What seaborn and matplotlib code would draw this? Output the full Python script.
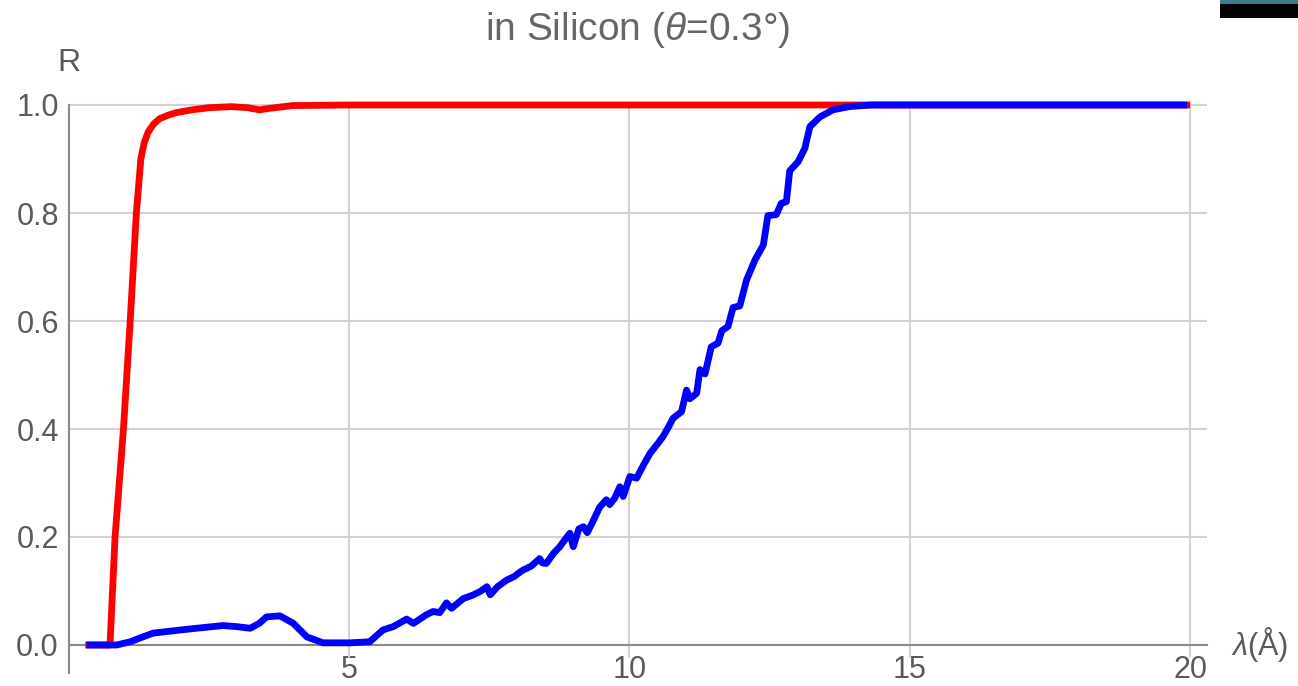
import matplotlib
matplotlib.use("Agg")
import matplotlib.pyplot as plt
from matplotlib.ticker import MultipleLocator, FixedLocator
from matplotlib.patches import Rectangle
import seaborn as sns
import pandas as pd

# Reflectivity curves: wavelength (Å) vs reflectivity R
red_lambda = [0.30, 0.74, 0.83, 0.98, 1.10, 1.21, 1.29, 1.35, 1.42, 1.52, 1.63,
              1.80, 1.93, 2.20, 2.50, 2.90, 3.20, 3.40, 3.60, 4.00, 5.00, 20.0]
red_r = [0.0, 0.0, 0.2, 0.4, 0.6, 0.8, 0.9, 0.93, 0.95, 0.965, 0.975,
         0.982, 0.986, 0.991, 0.995, 0.997, 0.995, 0.991, 0.994, 0.999, 1.0, 1.0]

blue_lambda = [0.32, 0.86, 1.10, 1.30, 1.51, 1.93, 2.28, 2.76, 3.00, 3.24, 3.40,
               3.53, 3.77, 4.01, 4.25, 4.54, 5.02, 5.37, 5.61, 5.79, 6.03, 6.15,
               6.38, 6.50, 6.62, 6.74, 6.83, 7.04, 7.20, 7.34, 7.46, 7.52, 7.65,
               7.81, 7.95, 8.05, 8.11, 8.25, 8.40, 8.45, 8.52, 8.65, 8.76, 8.85,
               8.94, 9.00, 9.10, 9.18, 9.25, 9.36, 9.47, 9.59, 9.65, 9.74, 9.83,
               9.89, 10.01, 10.13, 10.25, 10.37, 10.50, 10.60, 10.70, 10.78, 10.93,
               11.02, 11.08, 11.20, 11.26, 11.35, 11.46, 11.58, 11.65, 11.76, 11.85,
               11.97, 12.09, 12.24, 12.39, 12.47, 12.62, 12.71, 12.80, 12.86, 13.01,
               13.13, 13.22, 13.40, 13.63, 13.92, 14.30, 19.95]
blue_r = [0.0, 0.0, 0.006, 0.014, 0.022, 0.027, 0.031, 0.036, 0.034, 0.031, 0.040,
          0.052, 0.054, 0.040, 0.015, 0.004, 0.004, 0.006, 0.028, 0.034, 0.048, 0.040,
          0.056, 0.062, 0.060, 0.078, 0.068, 0.086, 0.092, 0.099, 0.108, 0.093, 0.108,
          0.120, 0.127, 0.135, 0.139, 0.146, 0.160, 0.152, 0.151, 0.170, 0.182, 0.195,
          0.207, 0.182, 0.215, 0.219, 0.208, 0.231, 0.255, 0.269, 0.260, 0.272, 0.293,
          0.275, 0.312, 0.309, 0.333, 0.355, 0.372, 0.386, 0.404, 0.420, 0.432,
          0.472, 0.456, 0.466, 0.510, 0.502, 0.552, 0.559, 0.582, 0.590, 0.625,
          0.628, 0.676, 0.713, 0.741, 0.795, 0.797, 0.818, 0.821, 0.878, 0.895,
          0.920, 0.960, 0.978, 0.991, 0.997, 1.000, 1.000]

x_major = [5, 10, 15, 20]
y_major = [0.0, 0.2, 0.4, 0.6, 0.8, 1.0]
y_labels = ["0.0", "0.2", "0.4", "0.6", "0.8", "1.0"]

sns.set_style("white")
plt.rcParams["font.family"] = ["Liberation Sans", "DejaVu Sans"]
plt.rcParams["mathtext.fontset"] = "custom"
plt.rcParams["mathtext.it"] = "Liberation Sans:italic"
plt.rcParams["mathtext.rm"] = "Liberation Sans"

W, H = 1298, 686
fig = plt.figure(figsize=(W / 100, H / 100), dpi=100)

xmin, xmax = 0.0, 20.3
ymin, ymax = -0.052, 1.01
left_px, right_px = 68.5, 1207.0
y0_px, y1_px = 645.0, 105.0          # pixel rows of R=0 and R=1
ppu = (y0_px - y1_px)
bottom_px = y0_px - ymin * ppu
top_px = y0_px - ymax * ppu
ax = fig.add_axes([left_px / W, (H - bottom_px) / H,
                   (right_px - left_px) / W, (bottom_px - top_px) / H])

df_red = pd.DataFrame({"lambda": red_lambda, "R": red_r})
df_blue = pd.DataFrame({"lambda": blue_lambda, "R": blue_r})
sns.lineplot(data=df_red, x="lambda", y="R", ax=ax, color="#ff0000",
             linewidth=4.9, solid_capstyle="butt", solid_joinstyle="round",
             zorder=3, clip_on=False)
sns.lineplot(data=df_blue, x="lambda", y="R", ax=ax, color="#0000ff",
             linewidth=4.9, solid_capstyle="butt", solid_joinstyle="round",
             zorder=4, clip_on=False)

ax.set_xlim(xmin, xmax)
ax.set_ylim(ymin, ymax)

# grid lines
grid_kw = dict(color="#d2d2d2", linewidth=1.5, zorder=1)
for gx in x_major:
    ax.plot([gx, gx], [-0.022, 1.0], **grid_kw)
for gy in y_major[1:]:
    ax.plot([xmin, xmax], [gy, gy], **grid_kw)

# axes crossing at the origin
for s in ["top", "right"]:
    ax.spines[s].set_visible(False)
ax.spines["bottom"].set_position(("data", 0))
ax.spines["left"].set_position(("data", 0))
ax.spines["left"].set_bounds(ymin, 1.0)
for s in ["bottom", "left"]:
    ax.spines[s].set_color("#8a8a8a")
    ax.spines[s].set_linewidth(1.5)
    ax.spines[s].set_zorder(2)

ax.xaxis.set_major_locator(FixedLocator(x_major))
ax.xaxis.set_minor_locator(MultipleLocator(1))
ax.yaxis.set_major_locator(FixedLocator(y_major))
ax.yaxis.set_minor_locator(MultipleLocator(0.05))
ax.set_yticklabels(y_labels)
ax.tick_params(axis="both", which="major", direction="in", length=7, width=1.2,
               color="#8a8a8a", labelsize=22, labelcolor="#5a5a5a")
ax.tick_params(axis="both", which="minor", direction="in", length=4, width=1.0,
               color="#8a8a8a")
ax.tick_params(axis="x", which="major", pad=7)
ax.tick_params(axis="y", which="major", pad=7)
ax.set_xlabel("")
ax.set_ylabel("")

# axis labels at the axis ends
ax.text(0.0, 1.05, "R", ha="center", va="bottom", fontsize=23,
        color="#5a5a5a", transform=ax.transData, clip_on=False)
ax.text(20.72, 0.0, r"$\it{\lambda}$(Å)", ha="left", va="center", fontsize=22,
        color="#5a5a5a", transform=ax.transData, clip_on=False)

fig.text(638 / W, 1 - 30 / H, r"in Silicon ($\it{\theta}$=0.3°)", ha="center",
         va="center", fontsize=28, color="#666666")

# dark bar in the upper right corner
fig.patches.append(Rectangle((1220 / W, 1 - 18 / H), 78 / W, 14 / H,
                             transform=fig.transFigure, facecolor="black",
                             edgecolor="none"))
fig.patches.append(Rectangle((1220 / W, 1 - 4 / H), 78 / W, 4 / H,
                             transform=fig.transFigure, facecolor="#3d7b8c",
                             edgecolor="none"))

fig.savefig("out.png", dpi=100, facecolor="white")
